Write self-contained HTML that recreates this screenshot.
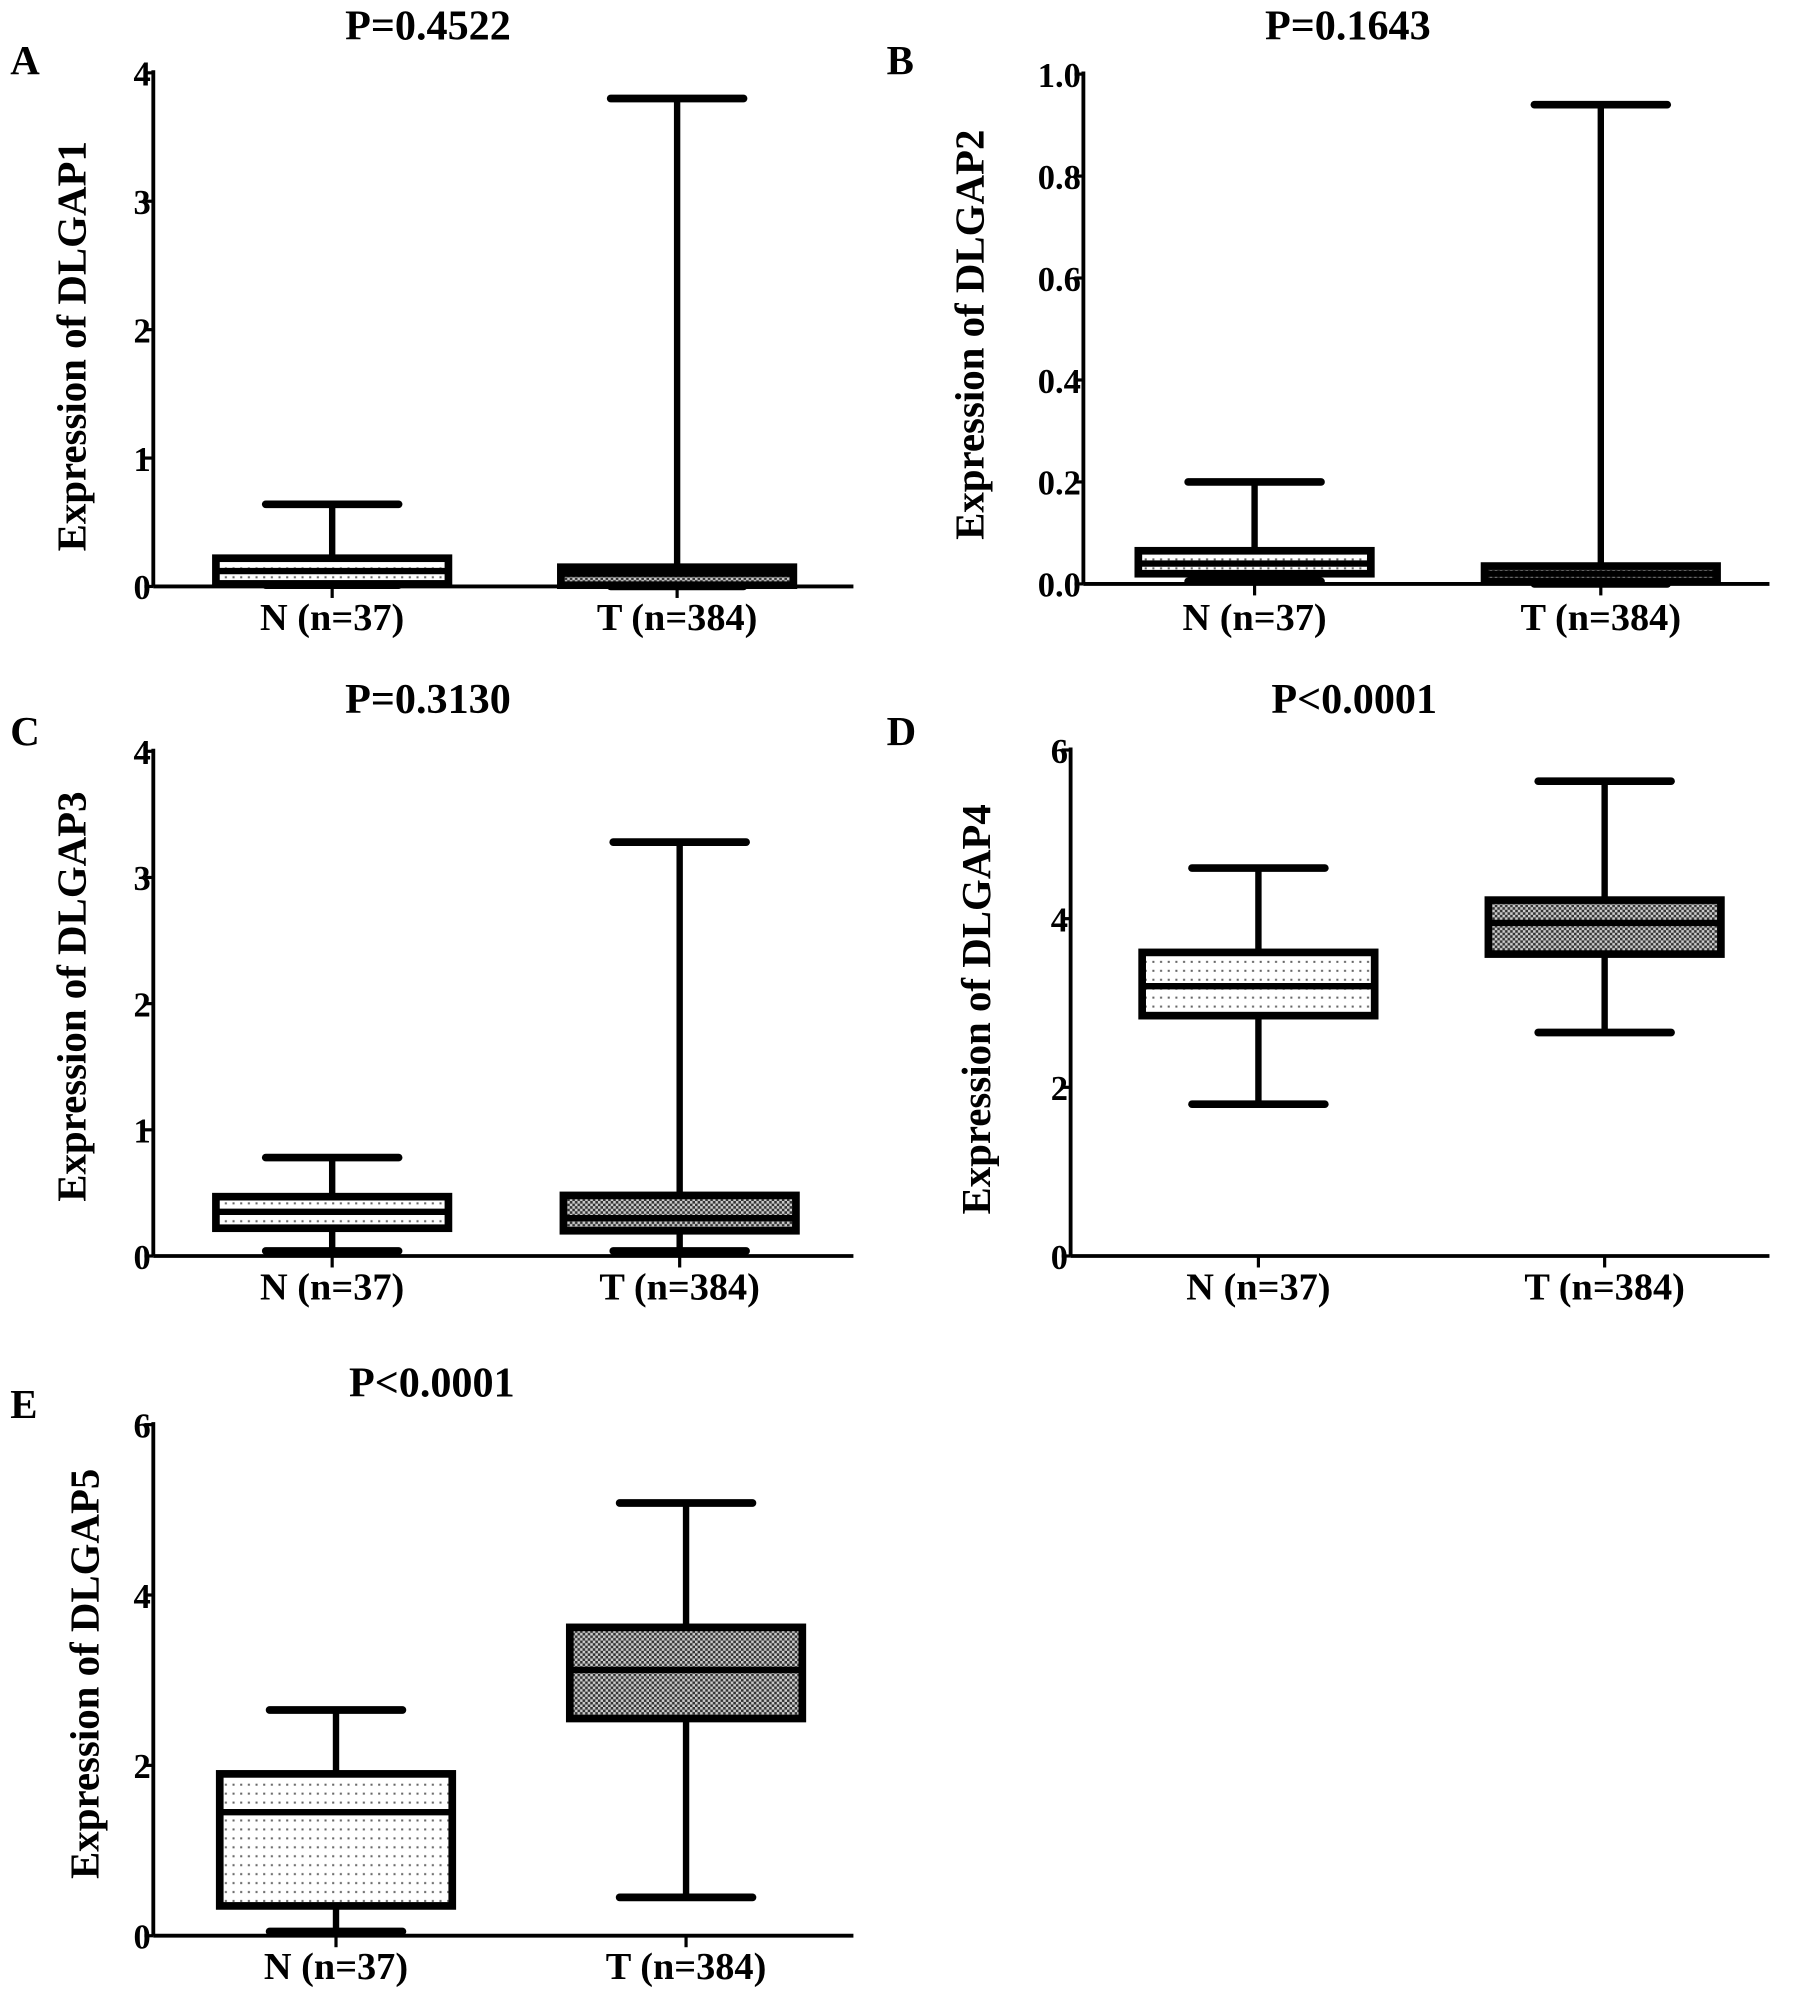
<!DOCTYPE html>
<html><head><meta charset="utf-8">
<style>
html,body{margin:0;padding:0;background:#fff;}
svg{display:block;}
text{font-family:"Liberation Serif",serif;font-weight:bold;fill:#000;}
</style></head>
<body>
<svg id="fig" width="1795" height="2006" viewBox="0 0 1405 1570" preserveAspectRatio="none" xmlns="http://www.w3.org/2000/svg">
<defs>
<pattern id="dotsN" width="6" height="7" patternUnits="userSpaceOnUse">
<rect width="6" height="7" fill="#fff"/><rect x="2" y="3" width="1.6" height="1.6" fill="#666"/>
</pattern>
<pattern id="checkT" width="4" height="4" patternUnits="userSpaceOnUse">
<rect width="4" height="4" fill="#333"/><rect x="0" y="0" width="2" height="2" fill="#ccc"/><rect x="2" y="2" width="2" height="2" fill="#ccc"/>
</pattern>
</defs>
</svg>
<script>
const groups = ["N (n=37)", "T (n=384)"];
const panelLetters = ["A", "B", "C", "D", "E"];
const panelTitles = ["P=0.4522", "P=0.1643", "P=0.3130", "P<0.0001", "P<0.0001"];
const yLabels = ["Expression of DLGAP1", "Expression of DLGAP2", "Expression of DLGAP3", "Expression of DLGAP4", "Expression of DLGAP5"];
const yMax = [4, 1.0, 4, 6, 6];
const tickA = ["0", "1", "2", "3", "4"];
const tickB = ["0.0", "0.2", "0.4", "0.6", "0.8", "1.0"];
const tickC = ["0", "1", "2", "3", "4"];
const tickD = ["0", "2", "4", "6"];
const tickE = ["0", "2", "4", "6"];
// [min, q1, median, q3, max] for N and T
const dataA_N = [0.01, 0.02, 0.12, 0.22, 0.64];
const dataA_T = [0.0, 0.01, 0.10, 0.15, 3.80];
const dataB_N = [0.005, 0.02, 0.04, 0.065, 0.20];
const dataB_T = [0.0, 0.005, 0.02, 0.035, 0.94];
const dataC_N = [0.04, 0.22, 0.35, 0.47, 0.78];
const dataC_T = [0.04, 0.20, 0.30, 0.48, 3.28];
const dataD_N = [1.80, 2.85, 3.20, 3.60, 4.60];
const dataD_T = [2.65, 3.58, 3.95, 4.22, 5.63];
const dataE_N = [0.05, 0.35, 1.45, 1.90, 2.65];
const dataE_T = [0.45, 2.55, 3.12, 3.62, 5.08];

const NS = "http://www.w3.org/2000/svg";
const svg = document.getElementById("fig");
function el(tag, attrs, parent) {
  const e = document.createElementNS(NS, tag);
  for (const k in attrs) e.setAttribute(k, attrs[k]);
  (parent || svg).appendChild(e);
  return e;
}
const layouts = [
  {ax:120, y0:459, yTop:57, right:668, cx:[260,530], tx:335, ty:31, lx:8, ly:58, ylx:67, yly:271, xly:493},
  {ax:848, y0:457, yTop:58, right:1385, cx:[982,1253], tx:1055, ty:31, lx:694, ly:58, ylx:770, yly:262, xly:493},
  {ax:120, y0:983, yTop:588, right:668, cx:[260,532], tx:335, ty:558, lx:8, ly:583, ylx:67, yly:780, xly:1017},
  {ax:838, y0:983, yTop:587, right:1385, cx:[985,1256], tx:1060, ty:558, lx:694, ly:583, ylx:775, yly:790, xly:1017},
  {ax:120, y0:1515, yTop:1115, right:668, cx:[263,537], tx:338, ty:1093, lx:8, ly:1110, ylx:77, yly:1310, xly:1549}
];
const ticks = [tickA, tickB, tickC, tickD, tickE];
const data = [[dataA_N,dataA_T],[dataB_N,dataB_T],[dataC_N,dataC_T],[dataD_N,dataD_T],[dataE_N,dataE_T]];
const boxHalf = 91, capHalf = 52, LW = 5;

layouts.forEach((L, p) => {
  const g = el("g", {});
  
  
  const y = v => L.y0 - (v / yMax[p]) * (L.y0 - L.yTop);
  const t1 = el("text", {x:L.lx, y:L.ly, "font-size":32}, g); t1.textContent = panelLetters[p];
  
  
  const t2 = el("text", {x:L.tx, y:L.ty, "font-size":33, "text-anchor":"middle"}, g); t2.textContent = panelTitles[p];
  
  
  const t3 = el("text", {x:0, y:0, "font-size":32, "text-anchor":"middle", transform:`translate(${L.ylx},${L.yly}) rotate(-90)`}, g); t3.textContent = yLabels[p];
  
  
  const axY = el("line", {x1:L.ax, y1:L.y0, x2:L.ax, y2:L.yTop - 2, stroke:"#000", "stroke-width":3}, g);
  
  
  const axX = el("line", {x1:L.ax, y1:L.y0, x2:L.right, y2:L.y0, stroke:"#000", "stroke-width":3}, g);
  
  
  const tl = ticks[p];
  tl.forEach((lab, i) => {
    const v = yMax[p] * i / (tl.length - 1);
    const yy = y(v);
    el("line", {x1:L.ax - 7, y1:yy, x2:L.ax, y2:yy, stroke:"#000", "stroke-width":2.5}, g);
    const tt = el("text", {x:L.ax - 2, y:yy + 10, "font-size":27, "text-anchor":"end"}, g); tt.textContent = lab;
    
    
  });
  groups.forEach((gname, k) => {
    const cx = L.cx[k], d = data[p][k];
    el("line", {x1:cx, y1:L.y0, x2:cx, y2:L.y0 + 9, stroke:"#000", "stroke-width":2.5}, g);
    const xl = el("text", {x:cx, y:L.xly, "font-size":30, "text-anchor":"middle"}, g); xl.textContent = gname;
    
    
    const bg = el("g", {}, g);
    
    
    el("line", {x1:cx, y1:y(d[0]), x2:cx, y2:y(d[4]), stroke:"#000", "stroke-width":LW}, bg);
    el("line", {x1:cx - capHalf, y1:y(d[4]), x2:cx + capHalf, y2:y(d[4]), stroke:"#000", "stroke-width":LW + 1, "stroke-linecap":"round"}, bg);
    el("line", {x1:cx - capHalf, y1:y(d[0]), x2:cx + capHalf, y2:y(d[0]), stroke:"#000", "stroke-width":LW + 1, "stroke-linecap":"round"}, bg);
    const top = y(d[3]), bot = y(d[1]);
    el("rect", {x:cx - boxHalf, y:top, width:2 * boxHalf, height:Math.max(bot - top, 1), fill:k === 0 ? "url(#dotsN)" : "url(#checkT)", stroke:"#000", "stroke-width":LW + 1}, bg);
    el("line", {x1:cx - boxHalf, y1:y(d[2]), x2:cx + boxHalf, y2:y(d[2]), stroke:"#000", "stroke-width":LW}, bg);
  });
});
</script>
</body></html>
